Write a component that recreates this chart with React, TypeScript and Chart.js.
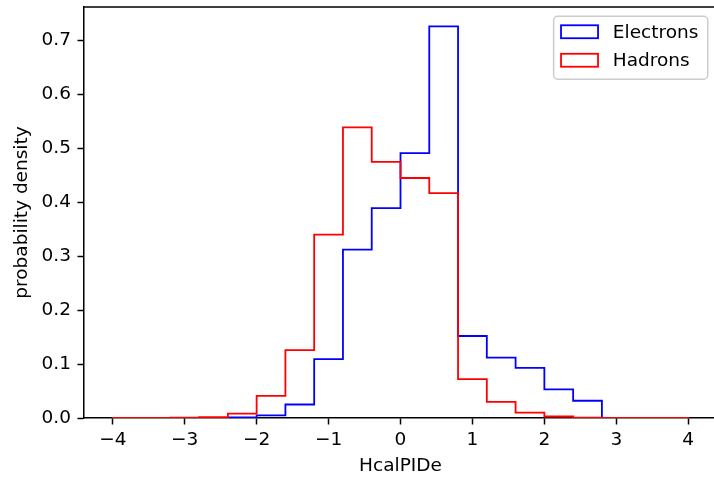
import React, { useEffect, useRef } from "react";
import { Chart, registerables } from "chart.js";

Chart.register(...registerables);

const binEdges = [-4, -3.6, -3.2, -2.8, -2.4, -2.0, -1.6, -1.2, -0.8, -0.4, 0, 0.4, 0.8, 1.2, 1.6, 2.0, 2.4, 2.8, 3.2, 3.6, 4];
const electronDensity = [0, 0, 0, 0, 0.001, 0.005, 0.025, 0.109, 0.312, 0.389, 0.491, 0.726, 0.152, 0.112, 0.093, 0.053, 0.032, 0, 0, 0];
const hadronDensity = [0.0003, 0.0003, 0.0005, 0.0015, 0.008, 0.041, 0.126, 0.34, 0.539, 0.475, 0.445, 0.417, 0.072, 0.03, 0.01, 0.0028, 0.0005, 0.0003, 0.0003, 0.0002];
const xTickValues = [-4, -3, -2, -1, 0, 1, 2, 3, 4];
const yTickValues = [0, 0.1, 0.2, 0.3, 0.4, 0.5, 0.6, 0.7];
const seriesLabels = ["Electrons", "Hadrons"];
const seriesColors = ["#0000ff", "#ff0000"];

const FONT = "DejaVu Sans";
const FS = 18.5;

function stepPoints(edges: number[], vals: number[]) {
  const pts: { x: number; y: number }[] = [{ x: edges[0], y: 0 }];
  vals.forEach((v, i) => {
    pts.push({ x: edges[i], y: v });
    pts.push({ x: edges[i + 1], y: v });
  });
  pts.push({ x: edges[edges.length - 1], y: 0 });
  return pts;
}

const framePlugin = {
  id: "mplFrame",
  afterDraw(chart: any) {
    const ctx = chart.ctx as CanvasRenderingContext2D;
    const { left, right, top } = chart.chartArea;
    ctx.save();
    // top spine
    ctx.strokeStyle = "#000";
    ctx.lineWidth = 1.5;
    ctx.beginPath();
    ctx.moveTo(left - 0.75, top);
    ctx.lineTo(right, top);
    ctx.stroke();

    // legend
    ctx.font = `${FS}px "${FONT}"`;
    const em = FS;
    const borderPad = 0.4 * em;
    const handleLen = 2.0 * em;
    const handleH = 0.7 * em;
    const textPad = 0.8 * em;
    const rowStep = 28.5;
    const labels: string[] = chart.data.datasets.map((d: any) => d.label);
    const textW = Math.max(...labels.map((l) => ctx.measureText(l).width));
    const w = borderPad * 2 + handleLen + textPad + textW + 2;
    const h = 63;
    const fx = right - 0.5 * em - w;
    const fy = top + 0.5 * em;
    const r = 4;
    ctx.beginPath();
    ctx.moveTo(fx + r, fy);
    ctx.lineTo(fx + w - r, fy);
    ctx.arcTo(fx + w, fy, fx + w, fy + r, r);
    ctx.lineTo(fx + w, fy + h - r);
    ctx.arcTo(fx + w, fy + h, fx + w - r, fy + h, r);
    ctx.lineTo(fx + r, fy + h);
    ctx.arcTo(fx, fy + h, fx, fy + h - r, r);
    ctx.lineTo(fx, fy + r);
    ctx.arcTo(fx, fy, fx + r, fy, r);
    ctx.closePath();
    ctx.fillStyle = "rgba(255,255,255,0.8)";
    ctx.fill();
    ctx.strokeStyle = "#cccccc";
    ctx.lineWidth = 1.5;
    ctx.stroke();

    chart.data.datasets.forEach((d: any, i: number) => {
      const cy = fy + 15.5 + i * rowStep;
      const hx = fx + borderPad;
      ctx.strokeStyle = d.borderColor;
      ctx.lineWidth = 1.8;
      ctx.strokeRect(hx, cy - handleH / 2, handleLen, handleH);
      ctx.fillStyle = "#000";
      ctx.textBaseline = "middle";
      ctx.textAlign = "left";
      ctx.fillText(d.label, hx + handleLen + textPad, cy + 1);
    });
    ctx.restore();
  },
};

export default function App() {
  const canvasRef = useRef<HTMLCanvasElement | null>(null);

  useEffect(() => {
    if (!canvasRef.current) return;
    const chart = new Chart(canvasRef.current, {
      type: "line",
      data: {
        datasets: [
          {
            label: seriesLabels[0],
            data: stepPoints(binEdges, electronDensity),
            borderColor: seriesColors[0],
            borderWidth: 1.8,
            pointRadius: 0,
            fill: false,
            tension: 0,
            order: 1,
          },
          {
            label: seriesLabels[1],
            data: stepPoints(binEdges, hadronDensity),
            borderColor: seriesColors[1],
            borderWidth: 1.8,
            pointRadius: 0,
            fill: false,
            tension: 0,
            order: 0,
          },
        ],
      },
      options: {
        animation: false,
        responsive: false,
        devicePixelRatio: 1,
        events: [],
        layout: { padding: { left: 0, top: 7, right: 3, bottom: 0 } },
        plugins: {
          legend: { display: false },
          tooltip: { enabled: false },
        },
        scales: {
          x: {
            type: "linear",
            min: -4.4,
            max: 4.4,
            afterBuildTicks: (scale: any) => {
              scale.ticks = xTickValues.map((v) => ({ value: v }));
            },
            afterFit: (scale: any) => {
              scale.height = 59;
              scale.paddingLeft = 0;
              scale.paddingRight = 0;
            },
            ticks: {
              color: "#000",
              font: { family: FONT, size: FS },
              padding: 4.5,
              maxRotation: 0,
              autoSkip: false,
              callback: (v: any) => String(v).replace("-", "\u2212"),
            },
            grid: {
              drawOnChartArea: false,
              drawTicks: true,
              tickLength: 6.5,
              tickWidth: 1.5,
              tickColor: "#000",
            },
            border: { display: true, color: "#000", width: 1.5 },
            title: {
              display: true,
              text: "HcalPIDe",
              color: "#000",
              font: { family: FONT, size: FS, lineHeight: 1.2 },
              padding: { top: 0, bottom: 0 },
            },
          },
          y: {
            type: "linear",
            min: 0,
            max: 0.762,
            afterBuildTicks: (scale: any) => {
              scale.ticks = yTickValues.map((v) => ({ value: v }));
            },
            afterFit: (scale: any) => {
              scale.width = 84;
              scale.paddingTop = 0;
              scale.paddingBottom = 0;
            },
            ticks: {
              color: "#000",
              font: { family: FONT, size: FS },
              padding: 6.5,
              autoSkip: false,
              callback: (v: any) => Number(v).toFixed(1),
            },
            grid: {
              drawOnChartArea: false,
              drawTicks: true,
              tickLength: 6.5,
              tickWidth: 1.5,
              tickColor: "#000",
            },
            border: { display: true, color: "#000", width: 1.5 },
            title: {
              display: true,
              text: "probability density",
              color: "#000",
              font: { family: FONT, size: FS, lineHeight: 1.2 },
              padding: { top: 11, bottom: 0 },
            },
          },
        },
      },
      plugins: [framePlugin],
    });
    return () => chart.destroy();
  }, []);

  return (
    <div style={{ position: "fixed", left: 0, top: 0, width: 714, height: 477, overflow: "hidden", background: "#fff" }}>
      <canvas ref={canvasRef} width={720} height={477} style={{ display: "block" }} />
    </div>
  );
}
